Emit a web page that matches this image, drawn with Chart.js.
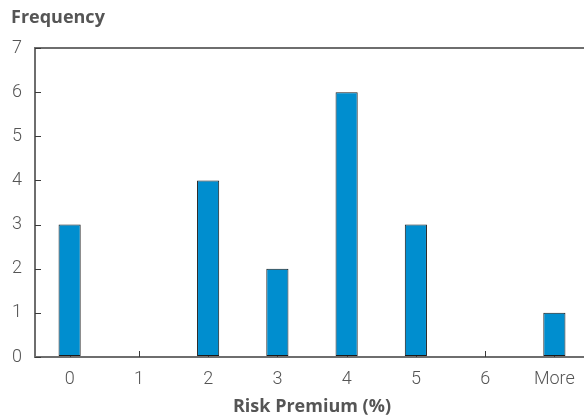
<!DOCTYPE html>
<html>
<head>
<meta charset="utf-8">
<script src="https://cdn.jsdelivr.net/npm/chart.js@4/dist/chart.umd.min.js"></script>
<style>
  html, body { margin: 0; padding: 0; background: #fff; overflow: hidden; }
  #wrap { width: 590px; height: 418px; position: relative; }
</style>
</head>
<body>
<div id="wrap"><canvas id="hist"></canvas></div>
<script>
// Histogram of risk premium observations
const categories = ['0', '1', '2', '3', '4', '5', '6', 'More'];
const frequency = [3, 0, 4, 2, 6, 3, 0, 1];
const yTicks = [0, 1, 2, 3, 4, 5, 6, 7];

const axisColor = '#6e6e6e';
const textColor = '#555555';
const fontFamily = 'Roboto, "Noto Sans", sans-serif';
const titleFamily = '"Open Sans", Roboto, sans-serif';

// Small inward tick marks on both axes, plus the vertical axis caption
const innerTicks = {
  id: 'innerTicks',
  beforeDatasetsDraw(chart) {
    const { ctx, chartArea, scales } = chart;
    ctx.save();
    ctx.strokeStyle = '#3a3a3a';
    ctx.lineWidth = 1;
    yTicks.forEach(v => {
      const y = Math.round(scales.y.getPixelForValue(v)) + 0.5;
      ctx.beginPath();
      ctx.moveTo(chartArea.left, y);
      ctx.lineTo(chartArea.left + 6, y);
      ctx.stroke();
    });
    categories.forEach((c, i) => {
      const x = Math.round(scales.x.getPixelForValue(i)) + 0.5;
      ctx.beginPath();
      ctx.moveTo(x, chartArea.bottom);
      ctx.lineTo(x, chartArea.bottom - 6);
      ctx.stroke();
    });
    ctx.restore();
  },
  afterDraw(chart) {
    const { ctx } = chart;
    ctx.save();
    ctx.font = 'bold 18px ' + titleFamily;
    ctx.fillStyle = textColor;
    ctx.textBaseline = 'middle';
    ctx.textAlign = 'left';
    ctx.fillText('Frequency', 11, 18);
    ctx.restore();
  }
};

new Chart(document.getElementById('hist'), {
  type: 'bar',
  data: {
    labels: categories,
    datasets: [{
      data: frequency,
      backgroundColor: '#008ecf',
      borderColor: '#1a1a1a',
      borderWidth: ctx => (ctx.raw === 0 ? 0 : 1),
      borderSkipped: false,
      categoryPercentage: 1,
      barPercentage: 0.32
    }]
  },
  options: {
    responsive: true,
    maintainAspectRatio: false,
    animation: false,
    layout: { padding: { top: 48, right: 1, left: 0, bottom: 0 } },
    plugins: {
      legend: { display: false },
      tooltip: { enabled: false },
      title: { display: false }
    },
    scales: {
      x: {
        grid: { display: false, drawTicks: false },
        border: { display: true, color: axisColor, width: 2 },
        ticks: {
          color: textColor,
          font: { family: fontFamily, size: 18, weight: 300 },
          padding: 12
        },
        title: {
          display: true,
          text: 'Risk Premium (%)',
          color: textColor,
          font: { family: titleFamily, size: 18, weight: 'bold' },
          padding: { top: 0, bottom: 0 }
        },
        afterFit(scale) { scale.height = 61; }
      },
      y: {
        min: 0,
        max: 7,
        grid: {
          drawTicks: false,
          color: ctx => (ctx.tick && ctx.tick.value === 7 ? axisColor : 'rgba(0,0,0,0)'),
          lineWidth: 2
        },
        border: { display: true, color: axisColor, width: 2 },
        ticks: {
          stepSize: 1,
          color: textColor,
          font: { family: fontFamily, size: 18, weight: 300 },
          padding: 13
        },
        afterFit(scale) { scale.width = 35; }
      }
    }
  },
  plugins: [innerTicks]
});
</script>
</body>
</html>
